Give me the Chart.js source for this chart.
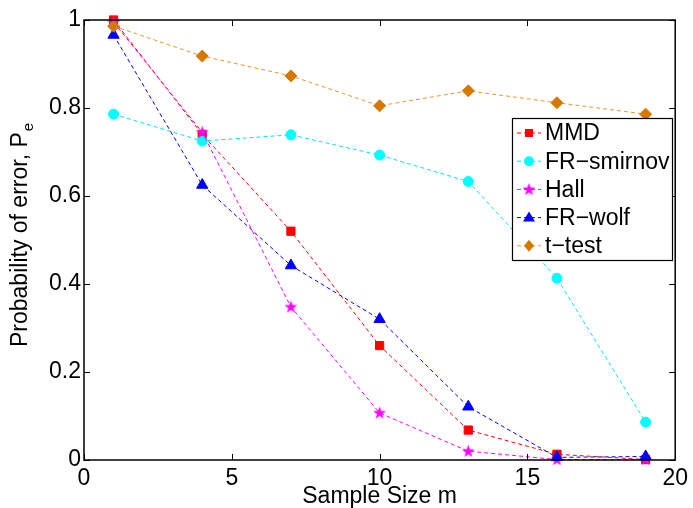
<!DOCTYPE html>
<html>
<head>
<meta charset="utf-8">
<script src="https://cdn.jsdelivr.net/npm/chart.js@4.4.0/dist/chart.umd.min.js"></script>
<style>
  html, body { margin: 0; padding: 0; background: #fff; }
</style>
</head>
<body>
<canvas id="errPlot" width="693" height="508"></canvas>
<script>
const sampleSizes = [1, 4, 7, 10, 13, 16, 19];
const mmd = [1.0, 0.74, 0.52, 0.26, 0.068, 0.013, 0.001];
const frSmirnov = [0.786, 0.725, 0.739, 0.693, 0.633, 0.413, 0.086];
const hall = [0.995, 0.745, 0.348, 0.107, 0.020, 0.001, 0.001];
const frWolf = [0.966, 0.625, 0.442, 0.32, 0.121, 0.006, 0.008];
const tTest = [0.986, 0.918, 0.873, 0.805, 0.839, 0.812, 0.786];
const seriesNames = ['MMD', 'FR\u2212smirnov', 'Hall', 'FR\u2212wolf', 't\u2212test'];
const xTicks = [0, 5, 10, 15, 20];
const yTicks = [0, 0.2, 0.4, 0.6, 0.8, 1];

const fontName = '"Liberation Sans", Arial, Helvetica, sans-serif';
const fontSize = 23;
const orange = '#d67800';

// filled 5 point star, used as pointStyle for Hall
function makeStar(color) {
    let c = document.createElement('canvas');
    c.width = 15;
    c.height = 15;
    let ctx = c.getContext('2d');
    ctx.fillStyle = color;
    ctx.beginPath();
    for (let i = 0; i < 10; i++) {
        let r = i % 2 == 0 ? 6.8 : 2.7;
        let a = -Math.PI / 2 + i * Math.PI / 5;
        ctx.lineTo(7.5 + r * Math.cos(a), 7.8 + r * Math.sin(a));
    }
    ctx.closePath();
    ctx.fill();
    return c;
}
const hallStar = makeStar('#ff00ff');

function series(label, values, color, lineColor, style, radius, order) {
    return {
        label: label,
        data: sampleSizes.map((x, i) => ({x: x, y: values[i]})),
        borderColor: lineColor,
        backgroundColor: color,
        pointBackgroundColor: color,
        pointBorderColor: color,
        pointBorderWidth: 1,
        pointStyle: style,
        pointRadius: radius,
        borderWidth: 1,
        borderDash: [4, 3],
        clip: false,
        order: order
    };
}

// box round the plot with inward ticks on every side
const frame = {
    id: 'frame',
    afterDatasetsDraw(chart) {
        const {ctx, chartArea: a, scales} = chart;
        ctx.save();
        ctx.strokeStyle = '#000';
        ctx.lineWidth = 1.5;
        ctx.strokeRect(a.left, a.top, a.right - a.left, a.bottom - a.top);
        ctx.lineWidth = 1;
        ctx.beginPath();
        xTicks.forEach(v => {
            let px = Math.round(scales.x.getPixelForValue(v)) + 0.5;
            ctx.moveTo(px, a.bottom); ctx.lineTo(px, a.bottom - 6);
            ctx.moveTo(px, a.top); ctx.lineTo(px, a.top + 6);
        });
        yTicks.forEach(v => {
            let py = Math.round(scales.y.getPixelForValue(v)) + 0.5;
            ctx.moveTo(a.left, py); ctx.lineTo(a.left + 6, py);
            ctx.moveTo(a.right, py); ctx.lineTo(a.right - 6, py);
        });
        ctx.stroke();

        // y title with subscript e
        ctx.fillStyle = '#000';
        ctx.translate(27, 347);
        ctx.rotate(-Math.PI / 2);
        ctx.font = fontSize + 'px ' + fontName;
        ctx.textBaseline = 'alphabetic';
        ctx.textAlign = 'left';
        let main = 'Probability of error, P';
        ctx.fillText(main, 0, 0);
        let w = ctx.measureText(main).width;
        ctx.font = '15px ' + fontName;
        ctx.fillText('e', w + 1, 6);
        ctx.restore();
    }
};

function drawMarker(ctx, i, x, y) {
    ctx.beginPath();
    if (i == 0) {
        ctx.rect(x - 4, y - 4, 8, 8);
        ctx.fill();
    } else if (i == 1) {
        ctx.arc(x, y, 5, 0, Math.PI * 2);
        ctx.fill();
    } else if (i == 2) {
        ctx.drawImage(hallStar, x - 7.5, y - 7.5);
    } else if (i == 3) {
        ctx.moveTo(x, y - 6); ctx.lineTo(x + 6, y + 4); ctx.lineTo(x - 6, y + 4);
        ctx.closePath(); ctx.fill();
    } else {
        ctx.moveTo(x, y - 6); ctx.lineTo(x + 5, y); ctx.lineTo(x, y + 6); ctx.lineTo(x - 5, y);
        ctx.closePath(); ctx.fill();
    }
}

const boxLegend = {
    id: 'boxLegend',
    afterDraw(chart) {
        const ctx = chart.ctx;
        const left = 512, top = 118, width = 160, height = 142;
        ctx.save();
        ctx.fillStyle = '#fff';
        ctx.fillRect(left, top, width, height);
        ctx.strokeStyle = '#000';
        ctx.lineWidth = 1.2;
        ctx.strokeRect(left + 0.5, top + 0.5, width, height);
        ctx.font = fontSize + 'px ' + fontName;
        ctx.textBaseline = 'middle';
        ctx.textAlign = 'left';
        chart.data.datasets.forEach((ds, i) => {
            let y = 133 + i * 28.2;
            ctx.strokeStyle = ds.borderColor;
            ctx.lineWidth = 1;
            ctx.setLineDash([4, 3]);
            ctx.beginPath();
            ctx.moveTo(517, y); ctx.lineTo(541, y);
            ctx.stroke();
            ctx.setLineDash([]);
            ctx.fillStyle = ds.pointBackgroundColor;
            drawMarker(ctx, i, 529, y);
            ctx.fillStyle = '#000';
            ctx.fillText(ds.label, 545, y + 1);
        });
        ctx.restore();
    }
};

const errPlot = new Chart('errPlot', {
    type: 'line',
    data: {
        datasets: [
            series(seriesNames[0], mmd, '#ff0000', '#ff0000', 'rect', 5.8, 4),
            series(seriesNames[1], frSmirnov, '#00ffff', '#00e5ee', 'circle', 5, 3),
            series(seriesNames[2], hall, '#ff00ff', '#ff00ff', hallStar, 6, 2),
            series(seriesNames[3], frWolf, '#0000ff', '#0000ff', 'triangle', 6.5, 1),
            series(seriesNames[4], tTest, orange, '#e8962e', 'rectRot', 6, 0)
        ]
    },
    options: {
        responsive: false,
        animation: false,
        layout: {
            padding: {top: 20, right: 14, left: 0, bottom: 0}
        },
        scales: {
            x: {
                type: 'linear',
                min: 0,
                max: 20,
                afterFit: s => { s.height = 48; },
                grid: {display: false, drawTicks: false},
                border: {display: false},
                ticks: {
                    stepSize: 5,
                    padding: 5,
                    color: '#000',
                    font: {family: fontName, size: fontSize}
                },
                title: {
                    display: true,
                    text: 'Sample Size m',
                    color: '#000',
                    padding: 0,
                    font: {family: fontName, size: fontSize, lineHeight: 1}
                }
            },
            y: {
                min: 0,
                max: 1,
                afterFit: s => { s.width = 84; },
                grid: {display: false, drawTicks: false},
                border: {display: false},
                ticks: {
                    stepSize: 0.2,
                    padding: 3,
                    color: '#000',
                    font: {family: fontName, size: fontSize},
                    callback: v => String(+v.toFixed(1))
                }
            }
        },
        plugins: {
            legend: {display: false},
            tooltip: {enabled: false}
        }
    },
    plugins: [frame, boxLegend]
});
</script>
</body>
</html>
